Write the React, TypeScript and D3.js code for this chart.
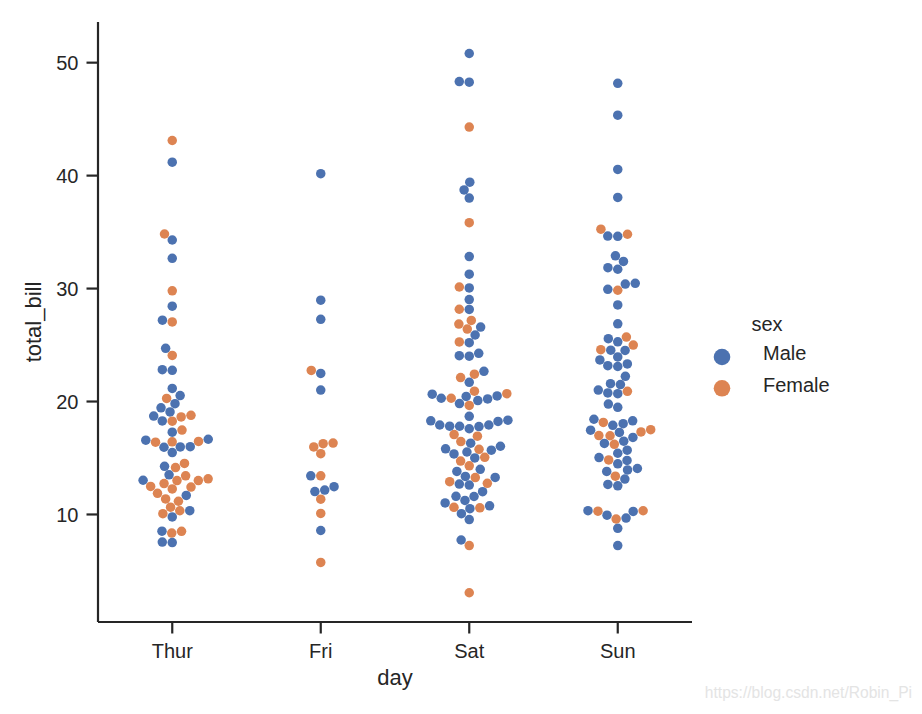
import React, { useMemo } from "react";
import * as d3 from "d3";

// ---- data (tips dataset: total_bill by day, coloured by sex) ----
const days = ["Thur", "Fri", "Sat", "Sun"];
const sexLabels = ["Male", "Female"];
const yTickValues = [10, 20, 30, 40, 50];

const thurBill = [27.2, 22.76, 17.29, 19.44, 16.66, 10.07, 32.68, 15.98, 34.83, 13.03, 18.28, 24.71, 21.16,
  10.65, 12.43, 24.08, 11.69, 13.42, 14.26, 15.95, 12.48, 29.8, 8.52, 14.52, 11.38, 22.82, 19.08, 20.27, 11.17,
  12.26, 18.26, 8.51, 10.33, 14.15, 16.0, 13.16, 17.47, 34.3, 41.19, 27.05, 16.43, 8.35, 18.64, 11.87, 9.78, 7.51,
  19.81, 28.44, 15.48, 16.58, 7.56, 10.34, 43.11, 13.0, 13.51, 18.71, 12.74, 13.0, 16.4, 20.53, 16.47, 18.78];
const thurSex = "MMMMMFMMFMMMM" + "FFFMFMMFFMFFMMFFFFFFFMFFMMFFFFFMM" + "MMMMMMFFMMFFFMF" + "F";

const friBill = [28.97, 22.49, 5.75, 16.32, 22.75, 40.17, 27.28, 12.03, 21.01, 12.46, 11.35, 15.38,
  12.16, 13.42, 8.58, 15.98, 13.42, 16.27, 10.09];
const friSex = "MMFFFMMMMMFF" + "MFMFMFF";

const satBill = [20.65, 17.92, 20.29, 15.77, 39.42, 19.82, 17.81, 13.37, 12.69, 21.7, 19.65, 9.55, 18.35, 15.06,
  20.69, 17.78, 24.06, 16.31, 16.93, 18.69, 31.27, 16.04, 38.01, 26.41, 11.24, 48.27, 20.29, 13.81, 11.02, 18.29,
  17.59, 20.08, 16.45, 3.07, 20.23, 15.01, 12.02, 17.07, 26.86, 25.28, 14.73, 10.51, 17.92, 44.3, 22.42, 20.92,
  15.36, 20.49, 25.21, 18.24, 14.31, 14.0, 7.25, 10.59, 10.63, 50.81, 15.81, 26.59, 38.73, 24.27, 12.76, 30.06,
  25.89, 48.33, 13.27, 28.17, 12.9, 28.15, 11.59, 7.74, 30.14, 20.45, 13.28, 22.12, 24.01, 15.69, 11.61, 10.77,
  15.53, 10.07, 12.6, 32.83, 35.83, 29.03, 27.18, 22.67, 17.82];
const satSex = "MMFFMMMMMMFMMFFMMMFMMM" + "MFMMMMMMMMFFMMMFFFFMM" + "FFFMMMMFMF" + "FFMM" + "MMMFMMMFFFMMMF" + "MMFMMMMMMMMFMFMM";

const sunBill = [16.99, 10.34, 21.01, 23.68, 24.59, 25.29, 8.77, 26.88, 15.04, 14.78, 10.27, 35.26, 15.42, 18.43,
  14.83, 21.58, 10.33, 16.29, 16.97, 17.46, 13.94, 9.68, 30.4, 18.29, 22.23, 32.4, 28.55, 18.04, 12.54, 10.29,
  34.81, 9.94, 25.56, 19.49, 38.07, 23.95, 25.71, 17.31, 29.93, 14.07, 13.13, 17.26, 24.55, 19.77, 29.85, 48.17,
  25.0, 13.39, 16.49, 21.5, 12.66, 16.21, 13.81, 17.51, 24.52, 20.76, 31.71, 7.25, 31.85, 16.82, 32.9, 17.89,
  14.48, 9.6, 34.63, 34.65, 23.33, 45.35, 23.17, 40.55, 20.69, 20.9, 30.46, 18.15, 23.1, 15.69];
const sunSex = "FMMMFMMMMMMFMMFMFMF" + "MMMMMMMMMMFFMMM" + "MMFFM" + "MMMMMFMFFMMMFMFMMM" + "MMMMMMFMMMMMMMFMFMM";

const billByDay = [thurBill, friBill, satBill, sunBill];
const sexByDay = [thurSex, friSex, satSex, sunSex];

// ---- styling ----
const W = 922;
const H = 714;
const plot = { left: 98, right: 692, top: 22, bottom: 622 };
const colors: Record<string, string> = { M: "#4C72B0", F: "#DD8452" };
const ink = "#262626";
const font = "'Liberation Sans', Arial, Helvetica, sans-serif";
const dotD = 9.5;

function beeswarm(up: number[], center: number, d: number, halfWidth: number): number[] {
  const n = up.length;
  const order = d3.range(n).sort((a, b) => up[a] - up[b] || a - b);
  const swarm: [number, number][] = [];
  const xs = new Array(n).fill(center);
  order.forEach((idx, k) => {
    const yi = up[idx];
    if (k === 0) {
      swarm.push([center, yi]);
      xs[idx] = center;
      return;
    }
    const neighbors: [number, number][] = [];
    for (let j = swarm.length - 1; j >= 0; j--) {
      if (yi - swarm[j][1] < d) neighbors.unshift(swarm[j]);
      else break;
    }
    const cands: [number, number][] = [[center, yi]];
    let leftFirst = true;
    for (const [xj, yj] of neighbors) {
      const dy = yi - yj;
      const dx = Math.sqrt(Math.max(d * d - dy * dy, 0)) * 1.05;
      const cl: [number, number] = [xj - dx, yi];
      const cr: [number, number] = [xj + dx, yi];
      if (leftFirst) cands.push(cl, cr);
      else cands.push(cr, cl);
      leftFirst = !leftFirst;
    }
    const sorted = cands
      .map((c, ci) => ({ c, ci, off: Math.abs(c[0] - center) }))
      .sort((a, b) => a.off - b.off || a.ci - b.ci);
    let chosen = sorted[0].c;
    for (const { c } of sorted) {
      const ok = neighbors.every(([nx, ny]) => (nx - c[0]) ** 2 + (ny - c[1]) ** 2 >= d * d - 1e-9);
      if (ok) {
        chosen = c;
        break;
      }
    }
    swarm.push(chosen);
    xs[idx] = Math.max(center - halfWidth, Math.min(center + halfWidth, chosen[0]));
  });
  return xs;
}

export default function App() {
  const x = d3.scaleBand<string>().domain(days).range([plot.left, plot.right]).padding(0);
  const y = d3.scaleLinear().domain([0.48, 53.6]).range([plot.bottom, plot.top]);

  const points = useMemo(() => {
    const out: { key: string; cx: number; cy: number; sex: string }[] = [];
    days.forEach((day, di) => {
      const vals = billByDay[di];
      const center = (x(day) as number) + x.bandwidth() / 2;
      const up = vals.map((v) => -y(v));
      const xs = beeswarm(up, center, dotD, x.bandwidth() * 0.4);
      vals.forEach((v, i) => {
        out.push({ key: `${day}-${i}`, cx: xs[i], cy: y(v), sex: sexByDay[di][i] });
      });
    });
    return out;
  }, []);

  const tickLen = 11.5;

  return (
    <svg
      width={W}
      height={H}
      style={{ position: "absolute", left: 0, top: 0, background: "#fff" }}
      fontFamily={font}
    >
      {/* points */}
      <g>
        {points.map((p) => (
          <circle key={p.key} cx={p.cx} cy={p.cy} r={dotD / 2} fill={colors[p.sex]} />
        ))}
      </g>

      {/* y axis */}
      <line x1={plot.left} x2={plot.left} y1={plot.top} y2={plot.bottom} stroke={ink} strokeWidth={2.2} />
      {yTickValues.map((t) => (
        <g key={t}>
          <line x1={plot.left - tickLen} x2={plot.left} y1={y(t)} y2={y(t)} stroke={ink} strokeWidth={2.2} />
          <text x={plot.left - tickLen - 8} y={y(t) + 7.2} textAnchor="end" fontSize={20} fill={ink}>
            {t}
          </text>
        </g>
      ))}

      {/* x axis */}
      <line x1={plot.left} x2={plot.right} y1={plot.bottom} y2={plot.bottom} stroke={ink} strokeWidth={2.2} />
      {days.map((d) => {
        const cx = (x(d) as number) + x.bandwidth() / 2;
        return (
          <g key={d}>
            <line x1={cx} x2={cx} y1={plot.bottom} y2={plot.bottom + tickLen} stroke={ink} strokeWidth={2.2} />
            <text x={cx} y={657.5} textAnchor="middle" fontSize={20} fill={ink}>
              {d}
            </text>
          </g>
        );
      })}

      {/* axis labels */}
      <text x={(plot.left + plot.right) / 2} y={684.5} textAnchor="middle" fontSize={22} fill={ink}>
        day
      </text>
      <text
        transform={`translate(40.5, ${(plot.top + plot.bottom) / 2}) rotate(-90)`}
        textAnchor="middle"
        fontSize={22}
        fill={ink}
      >
        total_bill
      </text>

      {/* legend */}
      <text x={767} y={331} textAnchor="middle" fontSize={20} fill={ink}>
        sex
      </text>
      {sexLabels.map((s, i) => (
        <g key={s}>
          <circle cx={722} cy={357 + i * 31.3} r={8.3} fill={colors[s[0]]} />
          <text x={763} y={360.3 + i * 31.8} fontSize={20} fill={ink}>
            {s}
          </text>
        </g>
      ))}

      {/* watermark */}
      <text x={912} y={698} textAnchor="end" fontSize={15.6} fill="#e4e4e4">
        https://blog.csdn.net/Robin_Pi
      </text>
    </svg>
  );
}
